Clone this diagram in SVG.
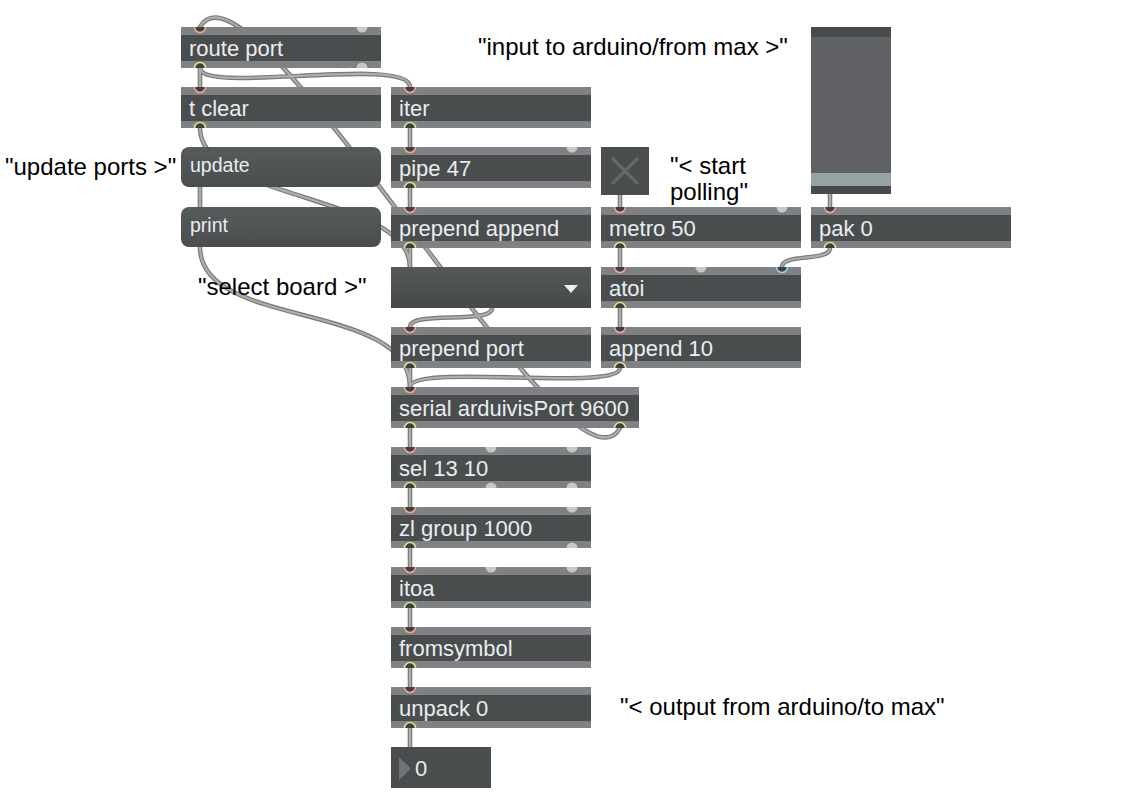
<svg xmlns="http://www.w3.org/2000/svg" xmlns:xlink="http://www.w3.org/1999/xlink" width="1130" height="809" viewBox="0 0 1130 809">
<style>
.strip{fill:#808184}
.body{fill:#4a4d4d}
.t{font-family:"Liberation Sans",Arial,sans-serif;font-size:22px;fill:#e8edf0}
.m{font-size:19.5px}
.cm{font-family:"Liberation Sans",Arial,sans-serif;font-size:24px;fill:#000}
.in{fill:#3d4040;stroke:#f2a596;stroke-width:1.6}
.out{fill:#3d4040;stroke:#dfe38b;stroke-width:1.6}
.inb{fill:#3d4040;stroke:#8fd4ea;stroke-width:1.6}
.g{fill:#c8c8c8}
.co{fill:none;stroke:#7a7a7a;stroke-width:4.6;stroke-linecap:round}
.ci{fill:none;stroke:#adadad;stroke-width:2.2;stroke-linecap:round}
.msg{fill:url(#mg)}
</style>
<defs>
<linearGradient id="mg" x1="0" y1="0" x2="0" y2="1"><stop offset="0" stop-color="#585b5c"/><stop offset="1" stop-color="#4a4d4d"/></linearGradient>
<linearGradient id="ug" x1="0" y1="0" x2="0" y2="1"><stop offset="0" stop-color="#555859"/><stop offset="1" stop-color="#464949"/></linearGradient>
<path id="inl" d="M-5.5,0 A5.5,5.5 0 0 0 5.5,0"/>
<path id="outl" d="M-5.5,0 A5.5,5.5 0 0 1 5.5,0"/>
<g id="cordpaths">
<path id="cA" d="M200,68 L200,87"/>
<path id="cB" d="M200,68 C200,95 410,55 410,87"/>
<path id="cC" d="M620,428 C570,518 251,-63 200,27"/>
<path id="cD" d="M200,128 C200,200 410,195 410,267"/>
<path id="cE" d="M200,187 L200,207"/>
<path id="cF" d="M200,247 C200,330 410,300 410,387"/>
<path id="cG" d="M492,308 C492,325 410,310 410,327"/>
<path id="cH" d="M620,368 C620,392 410,363 410,387"/>
<path id="cI" d="M830,248 C830,262 782,253 782,267"/>
<path id="cV" d="M410,128 V147 M410,188 V207 M410,248 V267 M410,368 V387 M410,428 V447 M410,488 V507 M410,548 V567 M410,608 V627 M410,668 V687 M410,728 V747 M620,195 V207 M620,248 V267 M620,308 V327 M830,194 V207"/>
</g>
</defs>
<rect width="1130" height="809" fill="#ffffff"/>
<g id="connectors">
<g class="co">
<use xlink:href="#cA"/><use xlink:href="#cB"/><use xlink:href="#cC"/><use xlink:href="#cD"/><use xlink:href="#cE"/><use xlink:href="#cF"/><use xlink:href="#cG"/><use xlink:href="#cH"/><use xlink:href="#cI"/><use xlink:href="#cV"/>
</g>
<g class="ci">
<use xlink:href="#cA"/><use xlink:href="#cB"/><use xlink:href="#cC"/><use xlink:href="#cD"/><use xlink:href="#cE"/><use xlink:href="#cF"/><use xlink:href="#cG"/><use xlink:href="#cH"/><use xlink:href="#cI"/><use xlink:href="#cV"/>
</g>
</g>

<g id="route_port">
<rect class="strip" x="181" y="27" width="200" height="41"/><rect class="body" x="181" y="35" width="200" height="26"/>
<text class="t" x="189" y="56">route port</text>
<use xlink:href="#inl" x="200" y="27" class="in"/><use xlink:href="#inl" x="362" y="27" class="g"/>
<use xlink:href="#outl" x="200" y="68" class="out"/><use xlink:href="#outl" x="362" y="68" class="g"/>
</g>
<g id="t_clear">
<rect class="strip" x="181" y="87" width="200" height="41"/><rect class="body" x="181" y="95" width="200" height="26"/>
<text class="t" x="189" y="116">t clear</text>
<use xlink:href="#inl" x="200" y="87" class="in"/><use xlink:href="#outl" x="200" y="128" class="out"/>
</g>
<g id="msg_update">
<rect class="msg" x="181" y="147" width="200" height="40" rx="8"/>
<text class="t m" x="190" y="172">update</text>
</g>
<g id="msg_print">
<rect class="msg" x="181" y="207" width="200" height="40" rx="8"/>
<text class="t m" x="190" y="232">print</text>
</g>
<g id="iter">
<rect class="strip" x="391" y="87" width="200" height="41"/><rect class="body" x="391" y="95" width="200" height="26"/>
<text class="t" x="399" y="116">iter</text>
<use xlink:href="#inl" x="410" y="87" class="in"/><use xlink:href="#outl" x="410" y="128" class="out"/>
</g>
<g id="pipe">
<rect class="strip" x="391" y="147" width="200" height="41"/><rect class="body" x="391" y="155" width="200" height="26"/>
<text class="t" x="399" y="176">pipe 47</text>
<use xlink:href="#inl" x="410" y="147" class="in"/><use xlink:href="#inl" x="572" y="147" class="g"/><use xlink:href="#outl" x="410" y="188" class="out"/>
</g>
<g id="prepend_append">
<rect class="strip" x="391" y="207" width="200" height="41"/><rect class="body" x="391" y="215" width="200" height="26"/>
<text class="t" x="399" y="236">prepend append</text>
<use xlink:href="#inl" x="410" y="207" class="in"/><use xlink:href="#outl" x="410" y="248" class="out"/>
</g>
<g id="umenu">
<rect x="391" y="267" width="200" height="41" fill="url(#ug)"/>
<polygon points="564,285 578,285 571,293" fill="#f0f0f0"/>
</g>
<g id="prepend_port">
<rect class="strip" x="391" y="327" width="200" height="41"/><rect class="body" x="391" y="335" width="200" height="26"/>
<text class="t" x="399" y="356">prepend port</text>
<use xlink:href="#inl" x="410" y="327" class="in"/><use xlink:href="#outl" x="410" y="368" class="out"/>
</g>
<g id="serial">
<rect class="strip" x="391" y="387" width="248" height="41"/><rect class="body" x="391" y="395" width="248" height="26"/>
<text class="t" x="399" y="416">serial arduivisPort 9600</text>
<use xlink:href="#inl" x="410" y="387" class="in"/><use xlink:href="#outl" x="410" y="428" class="out"/><use xlink:href="#outl" x="620" y="428" class="out"/>
</g>
<g id="sel">
<rect class="strip" x="391" y="447" width="200" height="41"/><rect class="body" x="391" y="455" width="200" height="26"/>
<text class="t" x="399" y="476">sel 13 10</text>
<use xlink:href="#inl" x="410" y="447" class="in"/><use xlink:href="#inl" x="491" y="447" class="g"/><use xlink:href="#inl" x="572" y="447" class="g"/>
<use xlink:href="#outl" x="410" y="488" class="out"/><use xlink:href="#outl" x="491" y="488" class="g"/><use xlink:href="#outl" x="572" y="488" class="g"/>
</g>
<g id="zl_group">
<rect class="strip" x="391" y="507" width="200" height="41"/><rect class="body" x="391" y="515" width="200" height="26"/>
<text class="t" x="399" y="536">zl group 1000</text>
<use xlink:href="#inl" x="410" y="507" class="in"/><use xlink:href="#inl" x="572" y="507" class="g"/>
<use xlink:href="#outl" x="410" y="548" class="out"/><use xlink:href="#outl" x="572" y="548" class="g"/>
</g>
<g id="itoa">
<rect class="strip" x="391" y="567" width="200" height="41"/><rect class="body" x="391" y="575" width="200" height="26"/>
<text class="t" x="399" y="596">itoa</text>
<use xlink:href="#inl" x="410" y="567" class="in"/><use xlink:href="#inl" x="491" y="567" class="g"/><use xlink:href="#inl" x="572" y="567" class="g"/>
<use xlink:href="#outl" x="410" y="608" class="out"/>
</g>
<g id="fromsymbol">
<rect class="strip" x="391" y="627" width="200" height="41"/><rect class="body" x="391" y="635" width="200" height="26"/>
<text class="t" x="399" y="656">fromsymbol</text>
<use xlink:href="#inl" x="410" y="627" class="in"/><use xlink:href="#outl" x="410" y="668" class="out"/>
</g>
<g id="unpack">
<rect class="strip" x="391" y="687" width="200" height="41"/><rect class="body" x="391" y="695" width="200" height="26"/>
<text class="t" x="399" y="716">unpack 0</text>
<use xlink:href="#inl" x="410" y="687" class="in"/><use xlink:href="#outl" x="410" y="728" class="out"/>
</g>
<g id="number">
<rect class="body" x="391" y="747" width="100" height="41"/>
<polygon points="399,757 399,780 411,768.5" fill="#707373"/>
<text class="t" x="415" y="776">0</text>
</g>
<g id="toggle">
<rect class="body" x="601" y="147" width="48" height="48"/>
<path d="M612,158 L638,184 M638,158 L612,184" stroke="#636667" stroke-width="3.5" fill="none"/>
</g>
<g id="metro">
<rect class="strip" x="601" y="207" width="200" height="41"/><rect class="body" x="601" y="215" width="200" height="26"/>
<text class="t" x="609" y="236">metro 50</text>
<use xlink:href="#inl" x="620" y="207" class="in"/><use xlink:href="#inl" x="782" y="207" class="g"/><use xlink:href="#outl" x="620" y="248" class="out"/>
</g>
<g id="atoi">
<rect class="strip" x="601" y="267" width="200" height="41"/><rect class="body" x="601" y="275" width="200" height="26"/>
<text class="t" x="609" y="296">atoi</text>
<use xlink:href="#inl" x="620" y="267" class="in"/><use xlink:href="#inl" x="701" y="267" class="g"/><use xlink:href="#inl" x="782" y="267" class="inb"/>
<use xlink:href="#outl" x="620" y="308" class="out"/>
</g>
<g id="append">
<rect class="strip" x="601" y="327" width="200" height="41"/><rect class="body" x="601" y="335" width="200" height="26"/>
<text class="t" x="609" y="356">append 10</text>
<use xlink:href="#inl" x="620" y="327" class="in"/><use xlink:href="#outl" x="620" y="368" class="out"/>
</g>
<g id="slider">
<rect x="811" y="27" width="80" height="167" fill="#5f6164"/>
<rect x="811" y="27" width="80" height="10" fill="#484b4b"/>
<rect x="811" y="173" width="80" height="13" fill="#95a3a5"/>
<rect x="811" y="186" width="80" height="8" fill="#484b4b"/>
</g>
<g id="pak">
<rect class="strip" x="811" y="207" width="200" height="41"/><rect class="body" x="811" y="215" width="200" height="26"/>
<text class="t" x="819" y="236">pak 0</text>
<use xlink:href="#inl" x="830" y="207" class="in"/><use xlink:href="#outl" x="830" y="248" class="out"/>
</g>
<g id="comments">
<text class="cm" x="478" y="55">"input to arduino/from max &gt;"</text>
<text class="cm" x="5" y="175">"update ports &gt;"</text>
<text class="cm" x="198" y="295">"select board &gt;"</text>
<text class="cm" x="670" y="174">"&lt; start</text>
<text class="cm" x="670" y="200">polling"</text>
<text class="cm" x="620" y="715">"&lt; output from arduino/to max"</text>
</g>
</svg>
